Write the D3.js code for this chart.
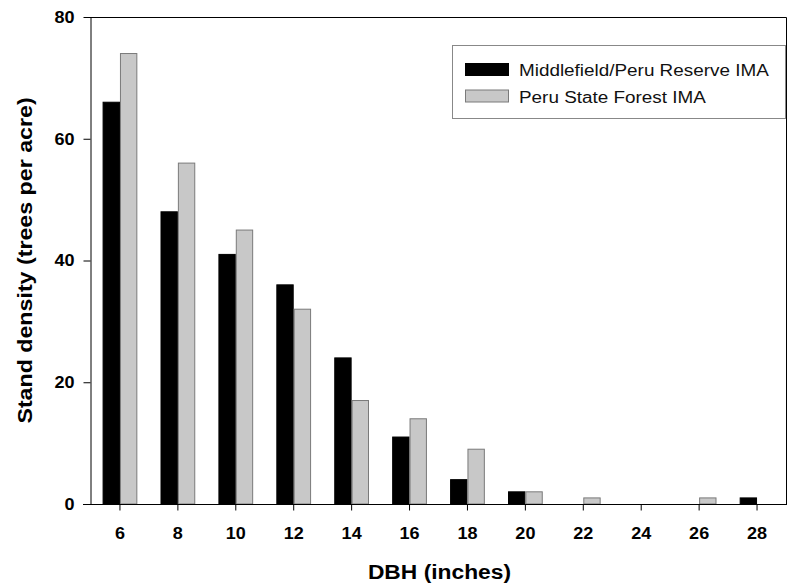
<!DOCTYPE html>
<html>
<head>
<meta charset="utf-8">
<script src="https://cdn.jsdelivr.net/npm/d3@7"></script>
<style>
  body { margin: 0; background: #fff; }
  svg text { font-family: "Liberation Sans", Arial, sans-serif; }
</style>
</head>
<body>
<div id="chart"></div>
<script>
var width = 789, height = 588
var margin = {top: 17, right: 2, bottom: 84, left: 90}

// data
var dbh = ['6', '8', '10', '12', '14', '16', '18', '20', '22', '24', '26', '28']
var middlefield = [66, 48, 41, 36, 24, 11, 4, 2, 0, 0, 0, 1]
var peruState = [74, 56, 45, 32, 17, 14, 9, 2, 1, 0, 1, 0]
var seriesNames = ['Middlefield/Peru Reserve IMA', 'Peru State Forest IMA']
var yTicks = [0, 20, 40, 60, 80]

var fills = ['#000000', '#c8c8c8']
var strokes = ['#000000', '#7a7a7a']

var svg = d3.select('#chart')
  .append('svg')
  .attr('width', width)
  .attr('height', height)

// stretch text a bit wider, the reference font runs wide
function widen(sel, k) {
  sel.each(function() {
    var w = this.getComputedTextLength()
    d3.select(this).attr('textLength', w * k).attr('lengthAdjust', 'spacingAndGlyphs')
  })
}

var xScale = d3.scaleBand()
  .domain(dbh)
  .range([margin.left + 1, width - margin.right - 1])
  .paddingInner(0.4)
  .paddingOuter(0.2)

var xInner = d3.scaleBand()
  .domain([0, 1])
  .range([0, xScale.bandwidth()])

var yScale = d3.scaleLinear()
  .domain([0, 80])
  .range([height - margin.bottom, margin.top])

var rows = dbh.map((d, i) => ({dbh: d, values: [middlefield[i], peruState[i]]}))

// bars
var groups = svg.selectAll('g.bar-group')
  .data(rows)
  .enter()
  .append('g')
  .attr('class', 'bar-group')
  .attr('transform', d => `translate(${xScale(d.dbh)},0)`)

groups.selectAll('rect')
  .data(d => d.values.map((v, s) => ({v: v, s: s})))
  .enter()
  .append('rect')
  .filter(d => d.v > 0)
  .attr('x', d => xInner(d.s) + 0.5)
  .attr('y', d => yScale(d.v))
  .attr('width', xInner.bandwidth() - 1)
  .attr('height', d => yScale(0) - yScale(d.v))
  .attr('fill', d => fills[d.s])
  .attr('stroke', d => strokes[d.s])
  .attr('stroke-width', 1)

// frame (top and right)
svg.append('path')
  .attr('d', `M${margin.left},${margin.top + 0.5}H${width - margin.right - 0.5}V${height - margin.bottom}`)
  .attr('fill', 'none')
  .attr('stroke', '#000')

// Y axis
var yAxis = d3.axisLeft(yScale)
  .tickValues(yTicks)
  .tickSize(7)
  .tickPadding(9)

svg.append('g')
  .attr('class', 'y-axis')
  .attr('transform', `translate(${margin.left + 0.5},0)`)
  .call(yAxis)
  .call(g => g.select('.domain').attr('d', `M0.5,${margin.top}V${height - margin.bottom}`))
  .selectAll('text')
  .attr('font-size', '17px')
  .attr('font-weight', 'bold')
  .attr('fill', '#000')
  .call(widen, 1.06)

// X axis
var xAxis = d3.axisBottom(xScale)
  .tickSize(6)
  .tickPadding(16)

svg.append('g')
  .attr('class', 'x-axis')
  .attr('transform', `translate(0,${height - margin.bottom + 0.5})`)
  .call(xAxis)
  .call(g => g.select('.domain').attr('d', `M${margin.left - 7},0H${width - margin.right}`))
  .selectAll('text')
  .attr('font-size', '17px')
  .attr('font-weight', 'bold')
  .attr('fill', '#000')
  .call(widen, 1.06)

// axis titles
svg.append('text')
  .attr('x', (margin.left + width - margin.right) / 2 + 1)
  .attr('y', 579)
  .attr('text-anchor', 'middle')
  .attr('font-size', '20px')
  .attr('font-weight', 'bold')
  .text('DBH (inches)')
  .call(widen, 1.14)

svg.append('text')
  .attr('transform', `translate(32,${(margin.top + height - margin.bottom) / 2}) rotate(-90)`)
  .attr('text-anchor', 'middle')
  .attr('font-size', '20px')
  .attr('font-weight', 'bold')
  .text('Stand density (trees per acre)')
  .call(widen, 1.16)

// legend
var legend = svg.append('g').attr('class', 'legend')
legend.append('rect')
  .attr('x', 452.5)
  .attr('y', 45.5)
  .attr('width', 333)
  .attr('height', 73)
  .attr('fill', '#fff')
  .attr('stroke', '#888')

var items = legend.selectAll('g.item')
  .data(seriesNames)
  .enter()
  .append('g')
  .attr('class', 'item')
  .attr('transform', (d, i) => `translate(465,${63 + i * 26.5})`)

items.append('rect')
  .attr('x', 0.5)
  .attr('y', 0.5)
  .attr('width', 43)
  .attr('height', 12)
  .attr('fill', (d, i) => fills[i])
  .attr('stroke', (d, i) => strokes[i])

items.append('text')
  .attr('x', 54)
  .attr('y', 13)
  .attr('font-size', '16px')
  .attr('fill', '#111')
  .text(d => d)
  .call(widen, 1.18)
</script>
</body>
</html>
